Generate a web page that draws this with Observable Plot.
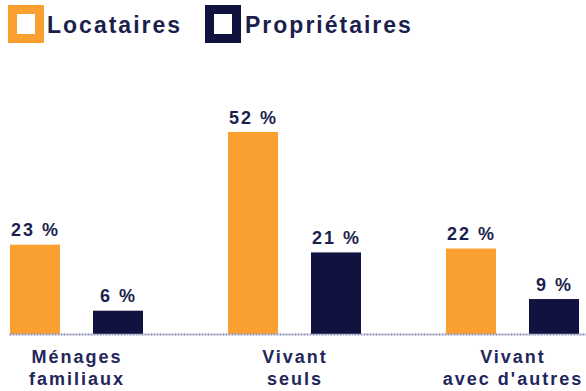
<!DOCTYPE html>
<html>
<head>
<meta charset="utf-8">
<script src="https://cdn.jsdelivr.net/npm/d3@7"></script>
<script src="https://cdn.jsdelivr.net/npm/@observablehq/plot@0.6"></script>
<style>
  html, body { margin: 0; padding: 0; background: #fff; overflow: hidden; }
  #wrap { position: relative; width: 586px; height: 391px; font-family: "Liberation Sans", Arial, sans-serif; }
  #legend { position: relative; height: 50px; }
  .sw { position: absolute; box-sizing: border-box; width: 36px; height: 38px; top: 5px; border: 9px solid; background: #fff; }
  .lab { position: absolute; top: 10px; font-weight: bold; font-size: 23px; letter-spacing: 2px; color: #1c1f4e; line-height: 30px; }
  #chart svg text { letter-spacing: 2px; }
</style>
</head>
<body>
<div id="wrap">
  <div id="legend"></div>
  <div id="chart"></div>
</div>
<script>
const groups = ["Ménages familiaux", "Vivant seuls", "Vivant avec d'autres"];
const groupLabels = ["Ménages\nfamiliaux", "Vivant\nseuls", "Vivant\navec d'autres"];
const series = ["Locataires", "Propriétaires"];
const locataires = [23, 52, 22];
const proprietaires = [6, 21, 9];
const colors = ["#f9a030", "#10133f"];
const textColor = "#1c1f4e";

// legend
const legend = document.getElementById("legend");
const legendPos = [{sw: 8, lab: 47}, {sw: 205, lab: 245}];
series.forEach((s, i) => {
  const sw = document.createElement("div");
  sw.className = "sw";
  sw.style.left = legendPos[i].sw + "px";
  sw.style.borderColor = colors[i];
  legend.appendChild(sw);
  const lab = document.createElement("div");
  lab.className = "lab";
  lab.style.left = legendPos[i].lab + "px";
  lab.textContent = s;
  legend.appendChild(lab);
});

const locData = groups.map((g, i) => ({group: g, value: locataires[i]}));
const propData = groups.map((g, i) => ({group: g, value: proprietaires[i]}));
const labelData = groups.map((g, i) => ({group: g, label: groupLabels[i]}));

const chart = Plot.plot({
  width: 586,
  height: 341,
  marginLeft: 9.5,
  marginRight: 7.5,
  marginTop: 82,
  marginBottom: 57,
  style: {fontFamily: "'Liberation Sans', Arial, sans-serif", background: "#fff", color: textColor},
  x: {domain: groups, paddingInner: 0.39, paddingOuter: 0, axis: null},
  y: {domain: [0, d3.max(locataires)], axis: null},
  marks: [
    Plot.barY(locData, {x: "group", y: "value", fill: colors[0], insetRight: 83, insetLeft: 0}),
    Plot.barY(propData, {x: "group", y: "value", fill: colors[1], insetLeft: 83, insetRight: 0}),
    Plot.ruleY([0], {stroke: "#8d91b3", strokeWidth: 2, strokeDasharray: "2,1", insetRight: -7.5}),
    Plot.text(locData, {x: "group", y: "value", text: d => d.value + " %", dx: -41.5, dy: -9, lineAnchor: "bottom", fontSize: 18, fontWeight: "bold", fill: textColor}),
    Plot.text(propData, {x: "group", y: "value", text: d => d.value + " %", dx: 41.5, dy: -9, lineAnchor: "bottom", fontSize: 18, fontWeight: "bold", fill: textColor}),
    Plot.text(labelData, {x: "group", y: () => 0, text: "label", dy: 14, lineAnchor: "top", lineHeight: 1.17, fontSize: 18, fontWeight: "bold", fill: "#23265a"})
  ]
});
document.getElementById("chart").appendChild(chart);
</script>
</body>
</html>
